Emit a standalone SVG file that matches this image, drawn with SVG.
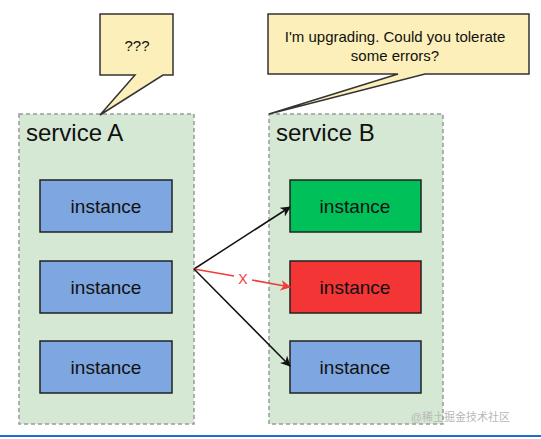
<svg xmlns="http://www.w3.org/2000/svg" width="541" height="439" viewBox="0 0 541 439">
<defs>
<style>
.svc{fill:#d5e8d4;stroke:#999;stroke-width:1.5;stroke-dasharray:4 3}
.inst{stroke:#222;stroke-width:1.5}
.callout{fill:#fcefb9;stroke:#333;stroke-width:1.5}
text{font-family:"Liberation Sans",Arial,sans-serif;fill:#111}
.lbl{font-size:19px;text-anchor:middle}
.ct{font-size:15px;text-anchor:middle}
.svct{font-size:24px}
.edge{fill:none;stroke-width:1.5}
</style>
<marker id="ab" viewBox="0 0 10 10" refX="9" refY="5" markerWidth="7" markerHeight="7" orient="auto"><path d="M0,0 L10,5 L0,10 L3,5 z" fill="#111"/></marker>
<marker id="ar" viewBox="0 0 10 10" refX="9" refY="5" markerWidth="7" markerHeight="7" orient="auto"><path d="M0,0 L10,5 L0,10 L3,5 z" fill="#f03c3c"/></marker>
</defs>
<rect width="541" height="439" fill="#fff"/>
<g id="serviceA">
<rect class="svc" x="19" y="114" width="175" height="310"/>
<text class="svct" x="26" y="141">service A</text>
</g>
<g id="serviceB">
<rect class="svc" x="269" y="114" width="174" height="310"/>
<text class="svct" x="276" y="141">service B</text>
</g>
<g id="a1"><rect class="inst" x="40" y="180" width="132" height="52" fill="#7ea6e0"/><text class="lbl" x="106" y="213">instance</text></g>
<g id="a2"><rect class="inst" x="40" y="261" width="132" height="52" fill="#7ea6e0"/><text class="lbl" x="106" y="294">instance</text></g>
<g id="a3"><rect class="inst" x="40" y="341" width="132" height="52" fill="#7ea6e0"/><text class="lbl" x="106" y="374">instance</text></g>
<g id="b1"><rect class="inst" x="290" y="180" width="131" height="52" fill="#00c05a"/><text class="lbl" x="355" y="213">instance</text></g>
<g id="b2"><rect class="inst" x="290" y="261" width="131" height="52" fill="#f33535"/><text class="lbl" x="355" y="294">instance</text></g>
<g id="b3"><rect class="inst" x="290" y="341" width="131" height="52" fill="#7ea6e0"/><text class="lbl" x="355" y="374">instance</text></g>
<g id="callout1">
<path class="callout" d="M100,14 H173 V75 H163 L100,115 L135,75 H100 Z"/>
<text class="ct" x="137" y="51">???</text>
</g>
<g id="callout2">
<path class="callout" d="M268,14 H529 V74 H425 L269,114 L398,74 H268 Z"/>
<text class="ct" x="395" y="42">I'm upgrading. Could you tolerate</text>
<text class="ct" x="395" y="61">some errors?</text>
</g>
<g id="connectors">
<path class="edge" stroke="#111" d="M194,269 L290,207" marker-end="url(#ab)"/>
<path class="edge" stroke="#f03c3c" d="M194,269 L234,276 M252,280 L290,287" marker-end="url(#ar)"/>
<path class="edge" stroke="#111" d="M194,269 L290,366" marker-end="url(#ab)"/>
<text x="243" y="284" style="font-size:14px;fill:#f03c3c" text-anchor="middle">X</text>
</g>
<text x="510" y="421" text-anchor="end" style="font-size:11px;fill:#b8b8b8;font-family:'Liberation Sans','Noto Sans CJK SC',sans-serif">@稀土掘金技术社区</text>
<rect x="0" y="435" width="541" height="2" fill="#1a6fd8"/>
</svg>
